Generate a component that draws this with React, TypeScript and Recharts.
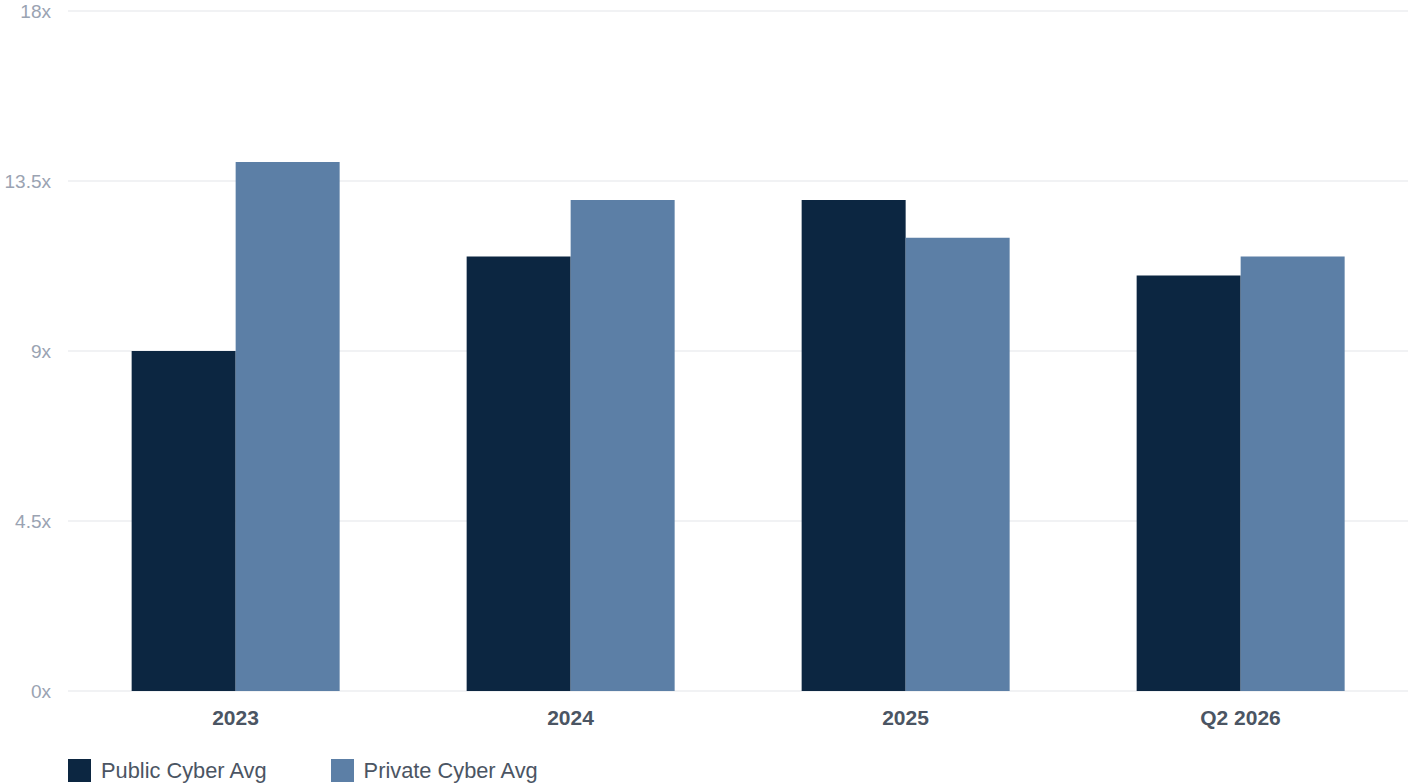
import React from "react";
import { BarChart, Bar, XAxis, YAxis, CartesianGrid, Legend } from "recharts";

const categories = ["2023", "2024", "2025", "Q2 2026"];
const publicAvg = [9.0, 11.5, 13.0, 11.0];
const privateAvg = [14.0, 13.0, 12.0, 11.5];
const yTicks = [0, 4.5, 9, 13.5, 18];
const seriesOrder = ["Public Cyber Avg", "Private Cyber Avg"];

const data = categories.map((c, i) => ({
  name: c,
  publicAvg: publicAvg[i],
  privateAvg: privateAvg[i],
}));

const FONT = '"Liberation Sans", Arial, Helvetica, sans-serif';

const LegendContent = (props: any) => {
  const payload = [...(props.payload || [])].sort(
    (a: any, b: any) => seriesOrder.indexOf(a.value) - seriesOrder.indexOf(b.value)
  );
  return (
    <div style={{ height: 33, display: "flex", alignItems: "flex-end", paddingLeft: 68, fontFamily: FONT }}>
      {payload.map((p: any, i: number) => (
        <div key={i} style={{ display: "flex", alignItems: "center", marginRight: i === 0 ? 64 : 0, height: 23, marginBottom: 2 }}>
          <div style={{ width: 23, height: 23, background: p.color, marginRight: 10 }} />
          <span style={{ fontSize: 21.8, color: "#4b5563", lineHeight: "23px" }}>{p.value}</span>
        </div>
      ))}
    </div>
  );
};

export default function App() {
  return (
    <div style={{ position: "absolute", left: 0, top: 0, width: 1410, height: 784, background: "#fff", fontFamily: FONT }}>
      <BarChart
        width={1410}
        height={784}
        data={data}
        margin={{ top: 11, right: 2, bottom: 0, left: 0 }}
        barCategoryGap="19%"
        barGap={0}
      >
        <CartesianGrid vertical={false} stroke="#eceef1" strokeWidth={1.5} />
        <XAxis
          dataKey="name"
          axisLine={false}
          tickLine={false}
          height={60}
          tickMargin={13}
          tick={{ fill: "#4b5563", fontSize: 21, fontWeight: 700, fontFamily: FONT }}
        />
        <YAxis
          width={68}
          domain={[0, 18]}
          ticks={yTicks}
          axisLine={false}
          tickLine={false}
          tickMargin={11}
          tickFormatter={(v: number) => `${v}x`}
          tick={{ fill: "#9aa3b2", fontSize: 19, fontFamily: FONT }}
        />
        <Legend verticalAlign="bottom" align="left" content={<LegendContent />} />
        <Bar dataKey="publicAvg" name="Public Cyber Avg" fill="#0c2641" isAnimationActive={false} />
        <Bar dataKey="privateAvg" name="Private Cyber Avg" fill="#5c7fa6" isAnimationActive={false} />
      </BarChart>
    </div>
  );
}
